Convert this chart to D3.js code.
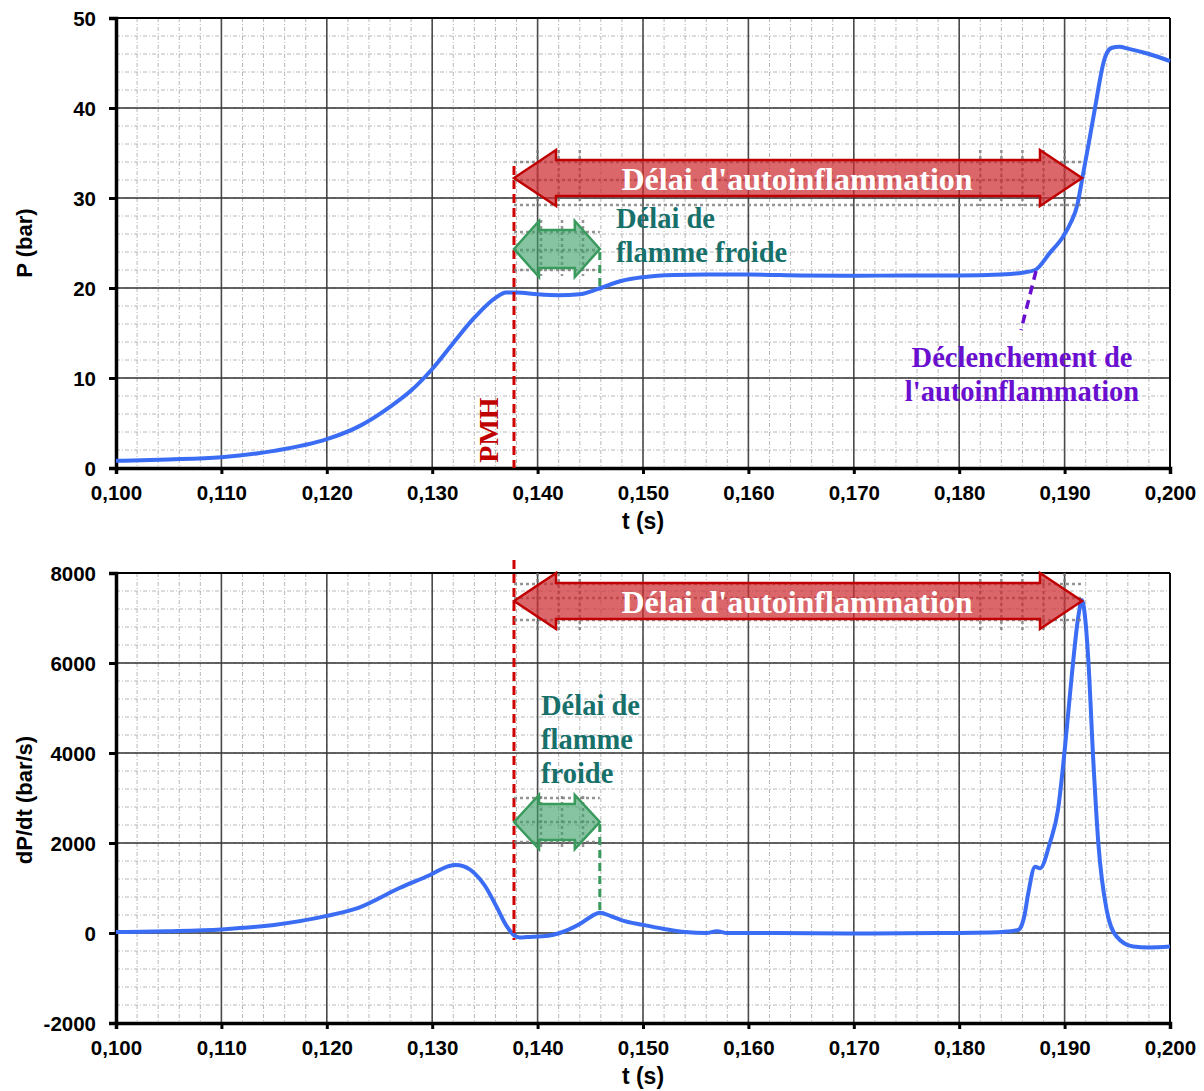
<!DOCTYPE html>
<html><head><meta charset="utf-8">
<script src="https://cdn.jsdelivr.net/npm/d3@7"></script>
<style>body{margin:0;background:#fff}</style>
</head><body>
<svg id="c" width="1204" height="1091"></svg>
<script>
// ---------- DATA ----------
const xTicks = [0.100,0.110,0.120,0.130,0.140,0.150,0.160,0.170,0.180,0.190,0.200];
const pTicks = [0,10,20,30,40,50];
const dTicks = [-2000,0,2000,4000,6000,8000];

const pTime = [0.100,0.105,0.110,0.115,0.120,0.123,0.126,0.128,0.130,0.132,0.134,0.136,0.137,0.138,0.140,0.142,0.144,0.145,0.146,0.148,0.150,0.153,0.156,0.160,0.165,0.170,0.175,0.180,0.184,0.186,0.1872,0.1886,0.18985,0.1906,0.1912,0.19165,0.1924,0.1929,0.1933,0.1936,0.1940,0.1945,0.1952,0.1960,0.1980,0.2000];
const pValues = [0.8,0.95,1.2,1.9,3.2,4.6,6.8,8.6,11.0,13.9,16.7,18.9,19.5,19.5,19.3,19.2,19.3,19.6,20.0,20.8,21.2,21.45,21.5,21.5,21.4,21.35,21.4,21.4,21.5,21.7,22.0,23.9,25.7,27.3,29.2,32.0,36.8,40.1,42.8,44.6,46.1,46.7,46.8,46.6,46.0,45.2];

const dTime = [0.100,0.105,0.110,0.115,0.120,0.123,0.1269,0.1298,0.1315,0.1322,0.1330,0.1340,0.1350,0.1361,0.1371,0.1378,0.1383,0.139,0.141,0.1421,0.144,0.1455,0.1459,0.147,0.148,0.150,0.152,0.154,0.156,0.157,0.158,0.162,0.170,0.178,0.183,0.1855,0.18577,0.1862,0.18655,0.1872,0.18767,0.1886,0.18937,0.19004,0.19067,0.1913,0.19163,0.19195,0.19225,0.19272,0.1932,0.19399,0.19494,0.1965,0.198,0.200];
const dValues = [20,40,80,180,380,560,1000,1289,1480,1511,1480,1330,1050,585,140,-60,-100,-90,-60,0,200,420,451,370,280,180,90,20,0,40,0,0,-10,0,10,60,100,400,880,1474,1437,2000,2733,4140,5696,7030,7400,7000,6067,3844,2000,511,-81,-300,-320,-300];

// annotation anchors (data units)
const tPMH = 0.13776, tCool = 0.1459, tAuto = 0.19165;

// ---------- LAYOUT ----------
const svg = d3.select("#c");
const L = 116, R = 1170;
const x = d3.scaleLinear().domain([0.1,0.2]).range([L,R]);
const fmt = d => d3.format(".3f")(d).replace(".", ",");
const serif = "'Liberation Serif','Times New Roman',serif";
const sans = "'Liberation Sans',Arial,sans-serif";

function panel(top, bottom, yDomain, yTicks, yMinorStep, yLabel, labelY, titleY){
  const y = d3.scaleLinear().domain(yDomain).range([bottom, top]);
  const g = svg.append("g");
  const xMinor = d3.range(0.1, 0.2001, 0.002);
  const yMinor = d3.range(yDomain[0], yDomain[1]+1e-9, yMinorStep);
  g.selectAll(".xm").data(xMinor).join("line")
    .attr("x1", d=>x(d)).attr("x2", d=>x(d)).attr("y1", top).attr("y2", bottom)
    .attr("stroke","#b8b8b8").attr("stroke-width",1).attr("stroke-dasharray","4,2,1,2");
  g.selectAll(".ym").data(yMinor).join("line")
    .attr("x1", L).attr("x2", R).attr("y1", d=>y(d)).attr("y2", d=>y(d))
    .attr("stroke","#b8b8b8").attr("stroke-width",1).attr("stroke-dasharray","4,2,1,2");
  g.selectAll(".xM").data(xTicks).join("line")
    .attr("x1", d=>x(d)).attr("x2", d=>x(d)).attr("y1", top).attr("y2", bottom)
    .attr("stroke","#4a4a4a").attr("stroke-width",1.6);
  g.selectAll(".yM").data(yTicks).join("line")
    .attr("x1", L).attr("x2", R).attr("y1", d=>y(d)).attr("y2", d=>y(d))
    .attr("stroke","#333").attr("stroke-width",1.6);
  g.append("line").attr("x1",L).attr("x2",R).attr("y1",top).attr("y2",top).attr("stroke","#000").attr("stroke-width",1.8);
  g.append("line").attr("x1",R).attr("x2",R).attr("y1",top).attr("y2",bottom).attr("stroke","#000").attr("stroke-width",1.8);
  const ax = g.append("g").attr("transform",`translate(0,${bottom})`)
    .call(d3.axisBottom(x).tickValues(xTicks).tickFormat(fmt).tickSize(6).tickPadding(9));
  const ay = g.append("g").attr("transform",`translate(${L},0)`)
    .call(d3.axisLeft(y).tickValues(yTicks).tickFormat(d=>String(d)).tickSize(7).tickPadding(13));
  [ax, ay].forEach(a=>{
    a.select(".domain").attr("stroke","#000").attr("stroke-width",3.5);
    a.selectAll(".tick line").attr("stroke","#000").attr("stroke-width",3);
    a.selectAll("text").attr("font-family",sans).attr("font-weight","bold").attr("font-size",20.5).attr("fill","#000");
  });
  ax.selectAll("text").attr("dy","0.82em");
  ay.selectAll("text").attr("dy","0.35em");
  g.append("text").attr("x",643).attr("y",titleY).attr("text-anchor","middle")
    .attr("font-family",sans).attr("font-weight","bold").attr("font-size",23).text("t (s)");
  g.append("text").attr("transform",`translate(32,${labelY}) rotate(-90)`).attr("text-anchor","middle")
    .attr("font-family",sans).attr("font-weight","bold").attr("font-size",22).text(yLabel);
  return {g, y, top, bottom};
}

function curve(p, ts, vs){
  const line = d3.line().x((d,i)=>x(ts[i])).y((d,i)=>p.y(vs[i])).curve(d3.curveMonotoneX);
  p.g.append("path").attr("d", line(ts)).attr("fill","none")
    .attr("stroke","#3a6cf4").attr("stroke-width",4).attr("stroke-linejoin","round");
}

function dblArrow(g, x0, x1, cy, hh, sh, hl, fill, stroke){
  const pts = [[x0,cy],[x0+hl,cy-hh],[x0+hl,cy-sh],[x1-hl,cy-sh],[x1-hl,cy-hh],[x1,cy],
               [x1-hl,cy+hh],[x1-hl,cy+sh],[x0+hl,cy+sh],[x0+hl,cy+hh]];
  g.append("path").attr("d","M"+pts.map(p=>p.join(",")).join("L")+"Z")
    .attr("fill",fill).attr("stroke",stroke).attr("stroke-width",2.5).attr("stroke-linejoin","miter");
}
function dotted(g, x0, x1, ys, y0, y1, xs){
  ys.forEach(yy=>g.append("line").attr("x1",x0).attr("x2",x1).attr("y1",yy).attr("y2",yy)
    .attr("stroke","#7a7a7a").attr("stroke-width",2.5).attr("stroke-dasharray","3,3").attr("opacity",0.8));
  xs.forEach(xx=>g.append("line").attr("x1",xx).attr("x2",xx).attr("y1",y0).attr("y2",y1)
    .attr("stroke","#7a7a7a").attr("stroke-width",2.5).attr("stroke-dasharray","3,3").attr("opacity",0.8));
}

// ---------- TOP PANEL ----------
const P = panel(18, 468, [0,50], pTicks, 2, "P (bar)", 243, 529);
curve(P, pTime, pValues);
{
  const g = P.g;
  g.append("line").attr("x1",x(tPMH)).attr("x2",x(tPMH)).attr("y1",166).attr("y2",468)
    .attr("stroke","#d00000").attr("stroke-width",3).attr("stroke-dasharray","9,5");
  g.append("text").attr("transform",`translate(${x(tPMH)-16},430) rotate(-90)`).attr("text-anchor","middle")
    .attr("font-family",serif).attr("font-weight","bold").attr("font-size",28).attr("fill","#c00000").text("PMH");
  const xs = d3.range(0.104,0.200,0.002).map(x).filter(v=>v>x(tPMH)+20 && v<x(tAuto)-5);
  dotted(g, x(tPMH), x(tAuto), [162,180,205], 150, 206, xs.filter(v=>v<600||v>960));
  dblArrow(g, x(tPMH), x(tAuto), 178, 28, 18, 42, "rgba(205,45,50,0.72)", "#c00000");
  g.append("text").attr("x",797).attr("y",190).attr("text-anchor","middle")
    .attr("font-family",serif).attr("font-weight","bold").attr("font-size",32).attr("fill","#fff").text("Délai d'autoinflammation");
  dotted(g, x(tPMH), x(tCool), [232,250,270], 220, 276, [541,562,583]);
  dblArrow(g, x(tPMH), x(tCool), 249, 28, 19, 25, "rgba(60,160,105,0.62)", "#3a9a5e");
  g.append("line").attr("x1",x(tCool)).attr("x2",x(tCool)).attr("y1",252).attr("y2",290)
    .attr("stroke","#3a9a5e").attr("stroke-width",3).attr("stroke-dasharray","8,5");
  g.append("text").attr("x",616).attr("y",228).attr("font-family",serif).attr("font-weight","bold")
    .attr("font-size",28.5).attr("fill","#17706a").text("Délai de");
  g.append("text").attr("x",616).attr("y",262).attr("font-family",serif).attr("font-weight","bold")
    .attr("font-size",28.5).attr("fill","#17706a").text("flamme froide");
  g.append("line").attr("x1",1036).attr("x2",1021).attr("y1",271).attr("y2",330)
    .attr("stroke","#6a0fcf").attr("stroke-width",3.5).attr("stroke-dasharray","9,6");
  g.append("text").attr("x",1022).attr("y",367).attr("text-anchor","middle").attr("font-family",serif).attr("font-weight","bold")
    .attr("font-size",28.5).attr("fill","#6a0fcf").text("Déclenchement de");
  g.append("text").attr("x",1022).attr("y",401).attr("text-anchor","middle").attr("font-family",serif).attr("font-weight","bold")
    .attr("font-size",28.5).attr("fill","#6a0fcf").text("l'autoinflammation");
}

// ---------- BOTTOM PANEL ----------
const D = panel(573, 1023, [-2000,8000], dTicks, 400, "dP/dt (bar/s)", 800, 1084);
curve(D, dTime, dValues);
{
  const g = D.g;
  g.append("line").attr("x1",x(tPMH)).attr("x2",x(tPMH)).attr("y1",560).attr("y2",940)
    .attr("stroke","#d00000").attr("stroke-width",3).attr("stroke-dasharray","9,5");
  const xs = d3.range(0.104,0.200,0.002).map(x).filter(v=>v>x(tPMH)+20 && v<x(tAuto)-5);
  dotted(g, x(tPMH), x(tAuto), [584,598,620], 573, 630, xs.filter(v=>v<600||v>960));
  dblArrow(g, x(tPMH), x(tAuto), 601, 28, 18, 42, "rgba(205,45,50,0.72)", "#c00000");
  g.append("text").attr("x",797).attr("y",613).attr("text-anchor","middle")
    .attr("font-family",serif).attr("font-weight","bold").attr("font-size",32).attr("fill","#fff").text("Délai d'autoinflammation");
  dotted(g, x(tPMH), x(tCool), [798,822,842], 796, 850, [541,562,583]);
  dblArrow(g, x(tPMH), x(tCool), 822, 27, 18, 25, "rgba(60,160,105,0.62)", "#3a9a5e");
  g.append("line").attr("x1",x(tCool)).attr("x2",x(tCool)).attr("y1",824).attr("y2",912)
    .attr("stroke","#3a9a5e").attr("stroke-width",3).attr("stroke-dasharray","8,5");
  ["Délai de","flamme","froide"].forEach((t,i)=>
    g.append("text").attr("x",541).attr("y",715+34*i).attr("font-family",serif).attr("font-weight","bold")
      .attr("font-size",28.5).attr("fill","#17706a").text(t));
}
</script>
</body></html>
